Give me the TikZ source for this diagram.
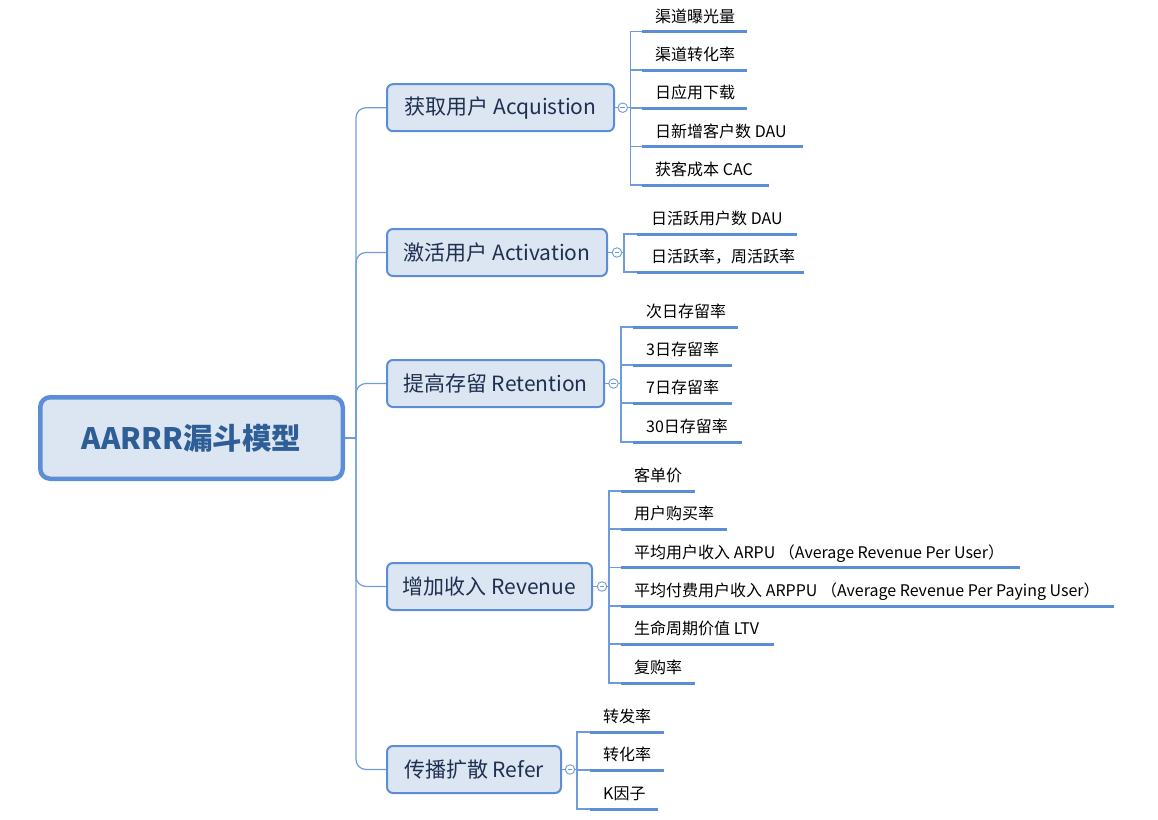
\documentclass[tikz,border=0pt]{standalone}
\usepackage{fontspec}
\setmainfont{Noto Sans CJK SC}
\definecolor{boxfill}{HTML}{DCE6F2}
\definecolor{boxline}{HTML}{5B8ED6}
\definecolor{busline}{HTML}{6E9CDA}
\definecolor{rootText}{HTML}{2E5E96}
\definecolor{branchText}{HTML}{1F2F4F}
\tikzset{
  rootbox/.style={draw=boxline, line width=4.5pt, fill=boxfill, rounded corners=10pt,
    minimum width=302.5pt, minimum height=81.5pt, inner sep=0pt,
    font=\fontsize{29.5}{32}\selectfont\bfseries, text=rootText},
  branchbox/.style={draw=boxline, line width=2pt, fill=boxfill, rounded corners=6pt,
    minimum height=47pt, inner sep=0pt,
    font=\fontsize{21}{24}\selectfont, text=branchText},
  trunk/.style={draw=busline, line width=1.2pt, rounded corners=10pt},
  bus/.style={draw=busline, line width=1.2pt},
  uline/.style={draw=boxline, line width=3pt},
  leaftext/.style={anchor=base west, inner sep=0pt, font=\fontsize{16}{18}\selectfont, text=black},
  togglec/.style={circle, draw=busline, fill=white, line width=0.9pt, minimum size=9.5pt, inner sep=0pt}
}
\begin{document}
\begin{tikzpicture}[x=1pt,y=-1pt]
\useasboundingbox (0,0) rectangle (1158,819);

% root
\node[rootbox] (root) at (191.5,438) {AARRR漏斗模型};
\coordinate (tk) at (356,438);
\draw[bus] (root.east) -- (tk);

% branches
\node[branchbox, minimum width=227pt] (b1) at (500.5,107.7) {获取用户 Acquistion};
\node[branchbox, minimum width=220pt] (b2) at (497,252.5) {激活用户 Activation};
\node[branchbox, minimum width=217pt] (b3) at (495.5,383.5) {提高存留 Retention};
\node[branchbox, minimum width=205pt] (b4) at (489.5,586.5) {增加收入 Revenue};
\node[branchbox, minimum width=174pt] (b5) at (474,769.5) {传播扩散 Refer};

\foreach \b in {b1,b2,b3,b4,b5}{
  \draw[trunk] (tk) |- (\b.west);
}

% toggles and bus joints
\foreach \b/\cx/\bx/\by in {b1/622.7/630.7/107.7, b2/617/624/252.5, b3/613.5/621/383.5, b4/602/609/586.5, b5/570/577/769.5}{
  \coordinate (\b j) at (\bx,\by);
  \draw[bus] (\b.east) -- (\b j);
  \node[togglec] (\b t) at (\cx,\by) {};
  \draw[draw=busline, line width=0.9pt] ([xshift=-2.3pt]\b t.center) -- ([xshift=2.3pt]\b t.center);
}

% leaves of b1
\foreach \i/\y/\e/\t in {1/31.7/747/渠道曝光量, 2/70/747/渠道转化率, 3/108/747/日应用下载, 4/146.7/803/日新增客户数 DAU, 5/185/769/获客成本 CAC}{
  \coordinate (l1s\i) at (642,\y);
  \coordinate (l1e\i) at (\e,\y);
  \draw[bus] (b1j) |- (l1s\i);
  \draw[uline] (l1s\i) -- (l1e\i);
  \node[leaftext] (l1t\i) at (655,\y-9.5) {\t};
}
% leaves of b2
\foreach \i/\y/\e/\t in {1/234/797/日活跃用户数 DAU, 2/272/804/日活跃率，周活跃率}{
  \coordinate (l2s\i) at (637,\y);
  \coordinate (l2e\i) at (\e,\y);
  \draw[bus] (b2j) |- (l2s\i);
  \draw[uline] (l2s\i) -- (l2e\i);
  \node[leaftext] (l2t\i) at (651,\y-9.5) {\t};
}
% leaves of b3
\foreach \i/\y/\e/\t in {1/327/738/次日存留率, 2/365/732/3日存留率, 3/403/732/7日存留率, 4/442/742/30日存留率}{
  \coordinate (l3s\i) at (633,\y);
  \coordinate (l3e\i) at (\e,\y);
  \draw[bus] (b3j) |- (l3s\i);
  \draw[uline] (l3s\i) -- (l3e\i);
  \node[leaftext] (l3t\i) at (646,\y-9.5) {\t};
}
% leaves of b4
\foreach \i/\y/\e/\t in {1/491/695/客单价, 2/529/727/用户购买率, 3/567.7/1020/平均用户收入 ARPU （Average Revenue Per User）, 4/606/1114/平均付费用户收入 ARPPU （Average Revenue Per Paying User）, 5/644/774/生命周期价值 LTV, 6/683/695/复购率}{
  \coordinate (l4s\i) at (621,\y);
  \coordinate (l4e\i) at (\e,\y);
  \draw[bus] (b4j) |- (l4s\i);
  \draw[uline] (l4s\i) -- (l4e\i);
  \node[leaftext] (l4t\i) at (634,\y-9.5) {\t};
}
% leaves of b5
\foreach \i/\y/\e/\t in {1/732/664/转发率, 2/770/664/转化率, 3/809/658/K因子}{
  \coordinate (l5s\i) at (590,\y);
  \coordinate (l5e\i) at (\e,\y);
  \draw[bus] (b5j) |- (l5s\i);
  \draw[uline] (l5s\i) -- (l5e\i);
  \node[leaftext] (l5t\i) at (603,\y-9.5) {\t};
}
\end{tikzpicture}
\end{document}
